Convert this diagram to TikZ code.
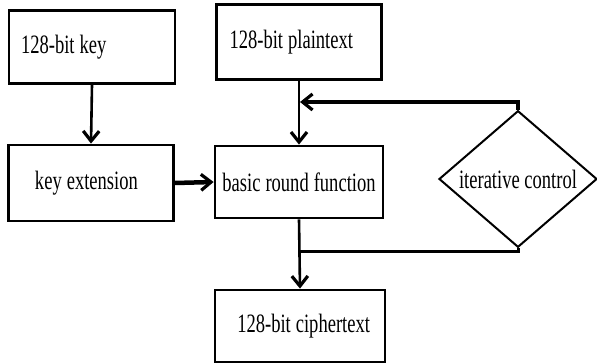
\documentclass[tikz,border=0pt]{standalone}
\usepackage{fontspec}
\setmainfont[FakeStretch=0.7]{Liberation Serif}
\usetikzlibrary{arrows.meta,shapes.geometric}
% condensed serif
\newcommand\boxfont{\fontsize{26.5}{30}\selectfont}

\begin{document}
\begin{tikzpicture}[x=1pt,y=-1pt,
  blk/.style={draw,line width=2.8pt,inner sep=0pt,font=\boxfont,
    execute at begin node={\spaceskip=5pt\relax}},
  ctrl/.style={draw,diamond,line width=2pt,inner sep=0pt,font=\boxfont},
  flow/.style={-{Straight Barb[length=10pt,width=16pt,line width=3.2pt]},line width=2.6pt}]
  \useasboundingbox (0,0) rectangle (597,363);
  % boxes
  \node[blk,minimum width=166pt,minimum height=73pt,text width=142pt,align=left] (key) at (92,47) {128-bit key};
  \node[blk,minimum width=165pt,minimum height=75pt,text width=139pt,align=left] (plain) at (299,42) {128-bit plaintext};
  \node[blk,minimum width=165pt,minimum height=76pt,text width=130pt,align=left] (ext) at (91,183) {\hspace*{9pt}key extension};
  \node[blk,minimum width=168pt,minimum height=72pt] (round) at (299,182) {basic round function};
  \node[blk,minimum width=170pt,minimum height=72pt,text width=140pt,align=right] (cipher) at (300,326) {128-bit ciphertext};
  \node[ctrl,minimum width=158pt,minimum height=128pt] (ctl) at (518,179) {iterative control};
  % joins on the main line
  \coordinate (fb) at (300,102);
  \coordinate (out) at (300,252);
  % arrows
  \draw[flow] (key.south) -- (ext.north);
  \draw[flow,line width=4.5pt] (ext.east) -- (round.west);
  \draw[flow] (plain.south) -- (round.north);
  \draw[flow,line width=4pt] (ctl.north) |- (fb);
  \draw[flow] (round.south) -- (cipher.north);
  \draw[line width=3pt] (ctl.south) |- (out);
\end{tikzpicture}
\end{document}
